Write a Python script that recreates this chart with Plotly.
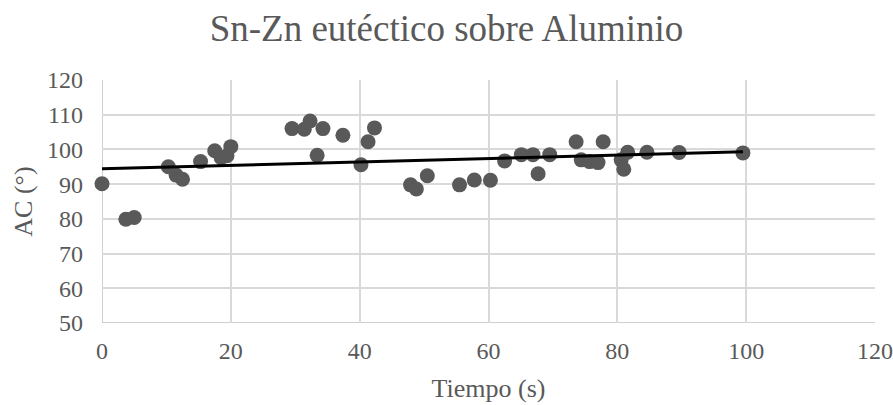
import numpy as np
import plotly.graph_objects as go

tiempo = [0, 3.7, 5, 10.3, 11.5, 12.5, 15.3, 17.5, 18.5, 19.4, 20,
          29.5, 31.4, 32.3, 33.4, 34.3, 37.4, 40.2, 41.3, 42.3,
          47.9, 48.8, 50.5, 55.5, 57.8, 60.3, 62.5, 65.1, 66.9, 67.7, 69.5,
          73.6, 74.4, 75.7, 77.0, 77.8, 80.6, 81.0, 81.6, 84.6, 89.6, 99.5]
ac = [90.1, 79.9, 80.4, 95.0, 92.6, 91.4, 96.5, 99.6, 97.6, 98.2, 100.8,
      106.0, 105.8, 108.2, 98.3, 106.0, 104.1, 95.6, 102.2, 106.2,
      89.8, 88.6, 92.4, 89.8, 91.2, 91.1, 96.7, 98.5, 98.5, 93.0, 98.5,
      102.2, 97.0, 96.5, 96.2, 102.2, 97.0, 94.3, 99.2, 99.2, 99.1, 99.0]

slope, intercept = np.polyfit(tiempo, ac, 1)
x_fit = np.array([min(tiempo), max(tiempo)])
y_fit = slope * x_fit + intercept

ff = "Liberation Serif"
gray = "#595959"

fig = go.Figure()
fig.add_trace(go.Scatter(
    x=tiempo, y=ac, mode="markers",
    marker=dict(color=gray, size=15, line=dict(width=0)),
    cliponaxis=False, showlegend=False))
fig.add_trace(go.Scatter(
    x=x_fit, y=y_fit, mode="lines",
    line=dict(color="black", width=3),
    showlegend=False))

fig.update_layout(
    width=893, height=405,
    margin=dict(l=102, r=18, t=80, b=82, autoexpand=False),
    paper_bgcolor="white", plot_bgcolor="white",
    title=dict(text="Sn-Zn eutéctico sobre Aluminio", x=0.5, xanchor="center",
               y=0.93, yanchor="middle",
               font=dict(family=ff, size=37, color=gray)),
    font=dict(family=ff, color=gray),
    xaxis=dict(range=[0, 120], dtick=20, showgrid=True, gridcolor="#d9d9d9",
               gridwidth=1.5, zeroline=False, showline=False, automargin=False,
               tickfont=dict(family=ff, size=24, color=gray), ticks="",
               ticklabelstandoff=11,
               title=dict(text="Tiempo (s)", font=dict(family=ff, size=26, color=gray), standoff=15)),
    yaxis=dict(range=[50, 120], dtick=10, showgrid=True, gridcolor="#d9d9d9",
               gridwidth=1.5, zeroline=False, showline=False, automargin=False,
               tickfont=dict(family=ff, size=24, color=gray), ticks="",
               ticklabelstandoff=18,
               title=dict(text="AC (°)", font=dict(family=ff, size=26, color=gray), standoff=6)),
)
fig.add_shape(type="line", xref="x", yref="y", x0=0, x1=120, y0=50, y1=50,
              line=dict(color="#bfbfbf", width=1.5), layer="below")
fig.add_shape(type="line", xref="x", yref="y", x0=0, x1=0, y0=50, y1=120,
              line=dict(color="#bfbfbf", width=1.5), layer="below")

fig.write_html("out.html")
